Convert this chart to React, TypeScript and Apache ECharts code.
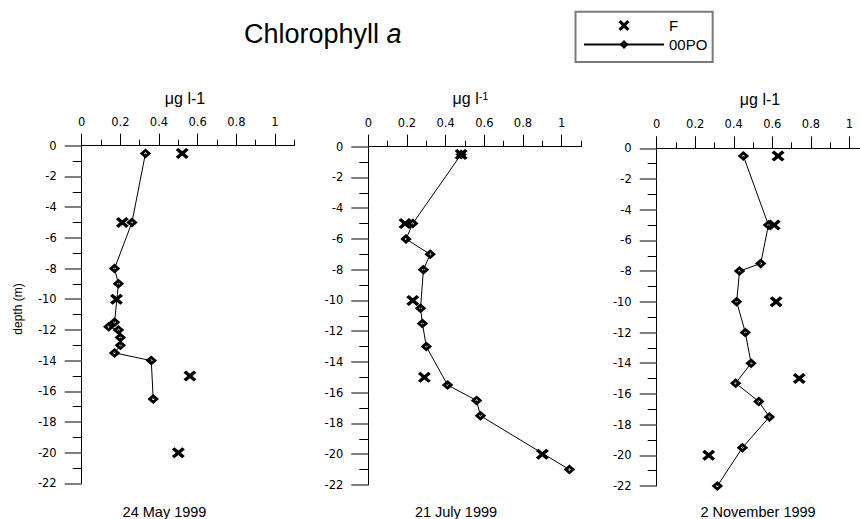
import React, { useEffect, useRef } from "react";
import * as echarts from "echarts";

// ---- Data ----
const panelDates = ["24 May 1999", "21 July 1999", "2 November 1999"];
const xTickValues = [0, 0.2, 0.4, 0.6, 0.8, 1];
const seriesNames = ["F", "00PO"];

// 24 May 1999
const fDepth1 = [-0.5, -5, -10, -15, -20];
const fValue1 = [0.52, 0.21, 0.18, 0.56, 0.5];
const poDepth1 = [-0.5, -5, -8, -9, -11.5, -11.8, -12, -12.5, -13, -13.5, -14, -16.5];
const poValue1 = [0.33, 0.26, 0.17, 0.19, 0.17, 0.14, 0.19, 0.2, 0.2, 0.17, 0.36, 0.37];

// 21 July 1999
const fDepth2 = [-0.5, -5, -10, -15, -20];
const fValue2 = [0.48, 0.19, 0.23, 0.29, 0.9];
const poDepth2 = [-0.5, -5, -6, -7, -8, -10.5, -11.5, -13, -15.5, -16.5, -17.5, -21];
const poValue2 = [0.48, 0.23, 0.195, 0.32, 0.285, 0.27, 0.28, 0.3, 0.41, 0.56, 0.58, 1.04];

// 2 November 1999
const fDepth3 = [-0.5, -5, -10, -15, -20];
const fValue3 = [0.63, 0.61, 0.62, 0.74, 0.27];
const poDepth3 = [-0.5, -5, -7.5, -8, -10, -12, -14, -15.3, -16.5, -17.5, -19.5, -22];
const poValue3 = [0.45, 0.58, 0.54, 0.43, 0.415, 0.46, 0.49, 0.41, 0.53, 0.585, 0.445, 0.315];

const fDepths = [fDepth1, fDepth2, fDepth3];
const fValues = [fValue1, fValue2, fValue3];
const poDepths = [poDepth1, poDepth2, poDepth3];
const poValues = [poValue1, poValue2, poValue3];

// ---- Layout ----
const grids = [
  { left: 81.7, top: 145.7, width: 212.6, height: 337.7 },
  { left: 368.3, top: 146.7, width: 212.7, height: 338.3 },
  { left: 656.7, top: 148.3, width: 211.9, height: 337.7 },
];
const unitPos = [
  { x: 185, y: 98 },
  { x: 470.5, y: 98.5 },
  { x: 760, y: 99.5 },
];
const datePos = [
  { x: 164.5, y: 511.5 },
  { x: 456, y: 512 },
  { x: 758, y: 512 },
];

const X_PATH =
  "path://M0,2 L2,0 L5,3 L8,0 L10,2 L7,5 L10,8 L8,10 L5,7 L2,10 L0,8 L3,5 Z";
const DIAMOND_PATH =
  "path://M5,0 L10,5 L5,10 L0,5 Z M5,3.7 L3.7,5 L5,6.3 L6.3,5 Z";
const TICK_FONT = "DejaVu Sans";
const MAIN_FONT = "Liberation Sans";

const zip = (xs: number[], ys: number[]) => xs.map((x, i) => [x, ys[i]]);

const richText = (x: number, y: number, text: string, rich: any, rotation = 0) => ({
  type: "text",
  x,
  y,
  rotation,
  style: { text, fill: "#000", align: "center", verticalAlign: "middle", rich },
});

export default function App() {
  const ref = useRef<HTMLDivElement>(null);

  useEffect(() => {
    if (!ref.current) return;
    const chart = echarts.init(ref.current, undefined, { renderer: "svg" });

    const xAxes: any[] = [];
    const yAxes: any[] = [];
    const series: any[] = [];
    const graphics: any[] = [];

    const unitRich = {
      b: { fontFamily: MAIN_FONT, fontSize: 16, lineHeight: 16, fill: "#000", color: "#000", verticalAlign: "bottom" },
      s: { fontFamily: MAIN_FONT, fontSize: 11, lineHeight: 11, fill: "#000", color: "#000", verticalAlign: "top" },
    };
    const dateRich = {
      d: { fontFamily: MAIN_FONT, fontSize: 14.5, lineHeight: 15, fill: "#000", color: "#000" },
    };

    grids.forEach((g, i) => {
      xAxes.push({
        type: "value",
        gridIndex: i,
        position: "top",
        min: 0,
        max: 1.1,
        interval: 0.1,
        axisLine: { show: true, onZero: false, lineStyle: { color: "#000", width: 1 } },
        axisTick: { show: true, inside: false, length: 6, lineStyle: { color: "#000", width: 1 } },
        axisLabel: { show: false },
        splitLine: { show: false },
      });
      xAxes.push({
        type: "value",
        gridIndex: i,
        position: "top",
        min: 0,
        max: 1.1,
        interval: 0.2,
        axisLine: { show: false, onZero: false },
        axisTick: {
          show: true,
          inside: false,
          length: 12,
          customValues: xTickValues,
          lineStyle: { color: "#000", width: 1 },
        },
        axisLabel: {
          show: true,
          customValues: xTickValues,
          formatter: (v: number) => String(Math.round(v * 10) / 10),
          margin: 24,
          verticalAlign: "middle",
          color: "#000",
          fontFamily: TICK_FONT,
          fontSize: 11.5,
        },
        splitLine: { show: false },
      });
      yAxes.push({
        type: "value",
        gridIndex: i,
        position: "left",
        min: -22,
        max: 0,
        interval: 2,
        axisLine: { show: true, onZero: false, lineStyle: { color: "#000", width: 1 } },
        axisTick: { show: true, inside: false, length: 17, lineStyle: { color: "#555", width: 1.5 } },
        minorTick: { show: true, splitNumber: 2, length: 9, lineStyle: { color: "#000", width: 1 } },
        axisLabel: {
          margin: 25,
          color: "#000",
          fontFamily: TICK_FONT,
          fontSize: 11.5,
        },
        splitLine: { show: false },
        minorSplitLine: { show: false },
      });

      series.push({
        type: "scatter",
        name: seriesNames[0],
        xAxisIndex: 2 * i + 1,
        yAxisIndex: i,
        data: zip(fValues[i], fDepths[i]),
        symbol: X_PATH,
        symbolSize: [13, 11],
        itemStyle: { color: "#000", opacity: 1 },
        emphasis: { disabled: true },
        z: 2,
      });
      series.push({
        type: "line",
        name: seriesNames[1],
        xAxisIndex: 2 * i + 1,
        yAxisIndex: i,
        data: zip(poValues[i], poDepths[i]),
        symbol: DIAMOND_PATH,
        symbolSize: [11.5, 10],
        showSymbol: true,
        showAllSymbol: true,
        itemStyle: { color: "#000", borderWidth: 0, opacity: 1 },
        lineStyle: { color: "#000", width: 1 },
        emphasis: { disabled: true },
        z: 3,
      });

      graphics.push(
        richText(
          unitPos[i].x,
          unitPos[i].y,
          i === 1 ? "{b|μg l}{s|-1}" : "{b|μg l-1}",
          unitRich
        )
      );
      graphics.push(richText(datePos[i].x, datePos[i].y, `{d|${panelDates[i]}}`, dateRich));
    });

    graphics.push(
      richText(
        17.5,
        309,
        "{y|depth (m)}",
        { y: { fontFamily: MAIN_FONT, fontSize: 12, lineHeight: 12, fill: "#000", color: "#000" } },
        Math.PI / 2
      )
    );

    chart.setOption({
      animation: false,
      backgroundColor: "#fff",
      title: {
        text: "{n|Chlorophyll }{i|a}",
        left: 244,
        top: 20,
        padding: 0,
        textStyle: {
          fontWeight: "normal",
          fontFamily: MAIN_FONT,
          fontSize: 27,
          rich: {
            n: { fontFamily: MAIN_FONT, fontSize: 27, lineHeight: 27, fontWeight: "normal", color: "#000" },
            i: { fontFamily: MAIN_FONT, fontSize: 27, lineHeight: 27, fontWeight: "normal", fontStyle: "italic", color: "#000" },
          },
        },
      },
      legend: {
        data: seriesNames,
        orient: "vertical",
        left: 575.5,
        top: 11.7,
        itemWidth: 80,
        itemHeight: 11,
        itemGap: 4,
        padding: [6.3, 5.3, 10, 7.5],
        borderColor: "#7a7a7a",
        borderWidth: 2,
        selectedMode: false,
        align: "left",
        textStyle: { fontFamily: MAIN_FONT, fontSize: 15, color: "#000" },
      },
      grid: grids.map((g) => ({ ...g, containLabel: false, outerBoundsMode: "none" })),
      xAxis: xAxes,
      yAxis: yAxes,
      series,
      graphic: graphics,
    });

    return () => chart.dispose();
  }, []);

  return (
    <div
      ref={ref}
      style={{ position: "absolute", left: 0, top: 0, width: 860, height: 519, background: "#fff" }}
    />
  );
}
